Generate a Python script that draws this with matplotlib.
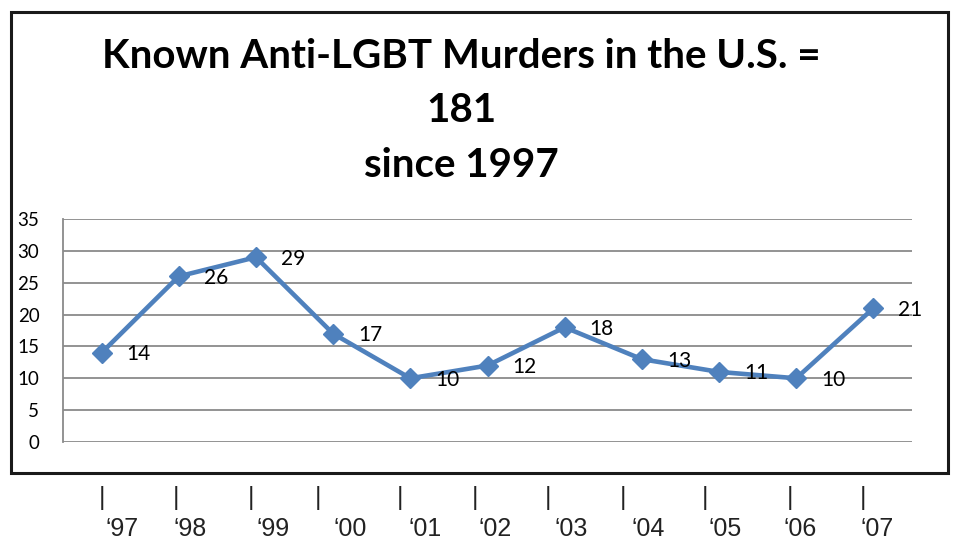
import matplotlib
matplotlib.use("Agg")
import matplotlib.pyplot as plt
from matplotlib.patches import Rectangle
from matplotlib.transforms import blended_transform_factory

# ---- data ----
years = ["\u201897", "\u201898", "\u201899", "\u201800", "\u201801", "\u201802",
         "\u201803", "\u201804", "\u201805", "\u201806", "\u201807"]
murders = [14, 26, 29, 17, 10, 12, 18, 13, 11, 10, 21]
yticks = [0, 5, 10, 15, 20, 25, 30, 35]
title_lines = ["Known Anti-LGBT Murders in the U.S. =", "181", "since 1997"]

# ---- styling / layout (not data) ----
pipe_offsets = [0.00, -0.03, -0.07, -0.20, -0.13, -0.16, -0.22, -0.24, -0.18, -0.08, -0.14]
label_offsets = [0.26, 0.15, 0.22, 0.22, 0.19, 0.10, 0.08, 0.08, 0.08, 0.05, 0.05]

W, H = 955, 540
fig = plt.figure(figsize=(W / 100, H / 100), dpi=100)

def fx(px):
    return px / W

def fy(py):
    return 1 - py / H

# outer box
fig.patches.append(Rectangle((fx(11), fy(473)), fx(948) - fx(11), fy(12) - fy(473),
                             transform=fig.transFigure, fill=False,
                             edgecolor="#1a1a1a", linewidth=2.2, zorder=0))

# title
calibri_like = ["Lato", "DejaVu Sans"]
for line, ypx in zip(title_lines, [68, 122, 177]):
    fig.text(fx(461), fy(ypx), line, ha="center", va="baseline",
             fontsize=29, fontweight="bold", family=calibri_like)

# plot area
ax = fig.add_axes([fx(63), fy(442), fx(912) - fx(63), fy(219) - fy(442)])
x = list(range(len(murders)))
ax.set_xlim(-0.5, len(murders) - 0.5)
ax.set_ylim(0, 35)
ax.set_yticks(yticks)
ax.set_yticklabels([str(v) for v in yticks], family=calibri_like, fontsize=13.5)
ax.tick_params(axis="y", length=0, pad=17)
ax.set_xticks([])
grid_color = "#8a8a8a"
for v in yticks:
    ax.axhline(v, color=grid_color, linewidth=1.3, zorder=1)
for side in ["top", "right", "bottom"]:
    ax.spines[side].set_visible(False)
ax.spines["left"].set_color(grid_color)
ax.spines["left"].set_linewidth(1.3)

ax.plot(x, murders, color="#4F81BD", linewidth=3.3, marker="D", markersize=10,
        markerfacecolor="#4F81BD", markeredgecolor="#4F81BD", zorder=3,
        solid_joinstyle="round")

for xi, v in zip(x, murders):
    ax.annotate(str(v), (xi, v), xytext=(18, -1), textcoords="offset points",
                ha="left", va="center", fontsize=15, family=calibri_like, zorder=4)

# category labels below the box
trans = blended_transform_factory(ax.transData, fig.transFigure)
for xi, lab, po, lo in zip(x, years, pipe_offsets, label_offsets):
    fig.text(xi + po, fy(505), "|", transform=trans, ha="center", va="baseline",
             fontsize=18, family=["Liberation Sans", "DejaVu Sans"], color="#222222")
    fig.text(xi + lo, fy(536), lab, transform=trans, ha="center", va="baseline",
             fontsize=18, family=["Liberation Sans", "DejaVu Sans"], color="#222222")

fig.savefig("out.png", dpi=100)
